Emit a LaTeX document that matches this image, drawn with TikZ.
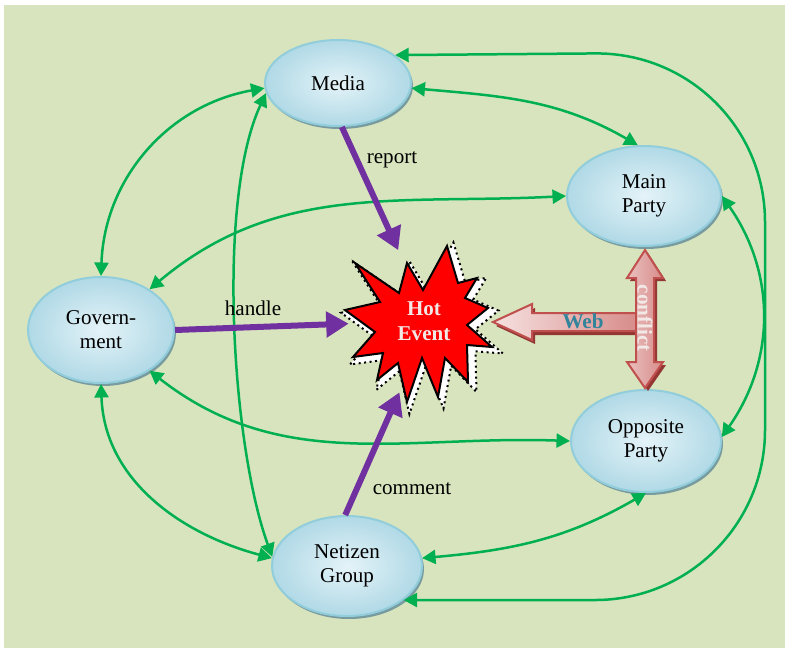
\documentclass[tikz,border=0pt]{standalone}
\usepackage{fontspec}
\setmainfont{Liberation Serif}
\usetikzlibrary{arrows.meta,shapes.geometric,shadows}
\definecolor{bggreen}{RGB}{215,228,189}
\definecolor{ellborder}{RGB}{146,205,220}
\definecolor{ellinner}{RGB}{228,243,248}
\definecolor{ellouter}{RGB}{176,217,230}
\definecolor{ellshadow}{RGB}{120,155,160}
\definecolor{linkgreen}{RGB}{0,176,80}
\definecolor{actpurple}{RGB}{112,48,160}
\definecolor{blockborder}{RGB}{192,80,77}
\definecolor{blockshadow}{RGB}{148,54,52}
\definecolor{blocklight}{RGB}{246,226,225}
\definecolor{blockdark}{RGB}{215,140,138}
\definecolor{webblue}{RGB}{49,132,155}
\definecolor{hotwhite}{RGB}{242,232,230}
\newcommand{\hotstar}{(-68,59) -- (-24,29) -- (-16,59) -- (0,32) -- (24,76) -- (35,39)
  -- (54,44) -- (42,24) -- (65,14) -- (44,-3) -- (69,-25) -- (44,-23) -- (45,-60)
  -- (22,-36) -- (15,-75) -- (-1,-36) -- (-16,-80) -- (-25,-41) -- (-46,-58)
  -- (-40,-31) -- (-70,-35) -- (-48,-10) -- (-78,12) -- (-43,20) -- cycle}

\begin{document}
\begin{tikzpicture}[x=0.02cm, y=0.02cm,
    font=\fontsize{12}{13.7}\selectfont,
    actor/.style={ellipse, draw=ellborder, line width=0.04cm, inner color=ellinner,
      outer color=ellouter, inner sep=0pt, align=center,
      drop shadow={shadow xshift=0.04cm, shadow yshift=-0.06cm, fill=ellshadow, opacity=1}},
    link/.style={draw=linkgreen, line width=0.05cm,
      arrows={Triangle[length=0.27cm,width=0.28cm]-Triangle[length=0.27cm,width=0.28cm]}},
    act/.style={draw=actpurple, line width=0.12cm, arrows={-Triangle[length=0.45cm,width=0.5cm]}},
    block/.style={draw=blockborder, line width=0.04cm}]
    \useasboundingbox (0,0) rectangle (787,-650);
    \fill[white] (0,0) rectangle (787,-650);
    \fill[bggreen] (4,-5) rectangle (785,-648);

    \node[actor, minimum width=2.92cm, minimum height=1.72cm] (media) at (338,-83) {Media};
    \node[actor, minimum width=3.08cm, minimum height=2cm] (main) at (644,-196) {Main\\Party};
    \node[actor, minimum width=2.92cm, minimum height=2.12cm] (gov) at (101,-330) {Govern-\\ment};
    \node[actor, minimum width=3cm, minimum height=2.04cm] (opp) at (646,-441) {Opposite\\Party};
    \node[actor, minimum width=3cm, minimum height=2cm] (net) at (347,-566) {Netizen\\Group};

    \coordinate (ne) at (765,-52);
    \coordinate (se) at (765,-600);
    \draw[link] (gov.90) to[out=88, in=190] (media.184);
    \draw[link] (media.188) to[out=245, in=110, looseness=0.65] (net.173);
    \draw[link] (gov.270) to[out=-88, in=165] (net.174);
    \draw[link] (gov.40) to[out=40, in=183] (main.180);
    \draw[link] (gov.-40) to[out=-38, in=178] (opp.180);
    \draw[link] (media.-4) to[out=-5, in=150] (main.97);
    \draw[link, rounded corners=3.4cm] (media.26) -- (ne) -- (se) -- (net.-31);
    \draw[link] (main.0) to[out=-55, in=55] (opp.3);
    \draw[link] (net.6) to[out=5, in=210] (opp.-90);

    \begin{scope}[shift={(427,-326)}, scale=1.1]
        \draw[dotted, line width=0.04cm, fill=white] \hotstar;
    \end{scope}
    \begin{scope}[shift={(423,-322)}]
        \draw[line width=0.04cm, fill=red] \hotstar;
    \end{scope}
    \node[circle, minimum size=3cm, align=center, text=hotwhite, font=\fontsize{12}{14.2}\selectfont\bfseries] (hot) at (424,-321) {Hot\\Event};

    \draw[act] (media.-85) -- (hot.110);
    \draw[act] (gov.0) -- (hot.182);
    \draw[act] (net.92) -- (hot.251);
    \node (report) at (392,-160) {report};
    \node (handle) at (253,-308) {handle};
    \node (comment) at (412,-489) {comment};

    \fill[blockshadow] (496,-326) -- (535,-308) -- (535,-317) -- (640,-317) -- (640,-335)
        -- (535,-335) -- (535,-344) -- cycle;
    \draw[block, left color=blocklight, right color=blockdark] (493,-322) -- (532,-304)
        -- (532,-313) -- (637,-313) -- (637,-331) -- (532,-331) -- (532,-340) -- cycle;
    \node[text=webblue, font=\fontsize{12}{14}\selectfont\bfseries] (web) at (583,-321) {Web};
    \fill[blockshadow] (648,-253) -- (666,-281) -- (657,-281) -- (657,-365) -- (666,-365)
        -- (648,-391) -- (630,-365) -- (639,-365) -- (639,-281) -- (630,-281) -- cycle;
    \draw[block, left color=blocklight!60!blockdark, right color=blockdark] (645,-250)
        -- (663,-278) -- (654,-278) -- (654,-362) -- (663,-362) -- (645,-388) -- (627,-362)
        -- (636,-362) -- (636,-278) -- (627,-278) -- cycle;
    \node[rotate=-90, text=hotwhite, font=\fontsize{12}{14}\selectfont\bfseries] (conflict) at (645,-318) {conflict};
\end{tikzpicture}
\end{document}
